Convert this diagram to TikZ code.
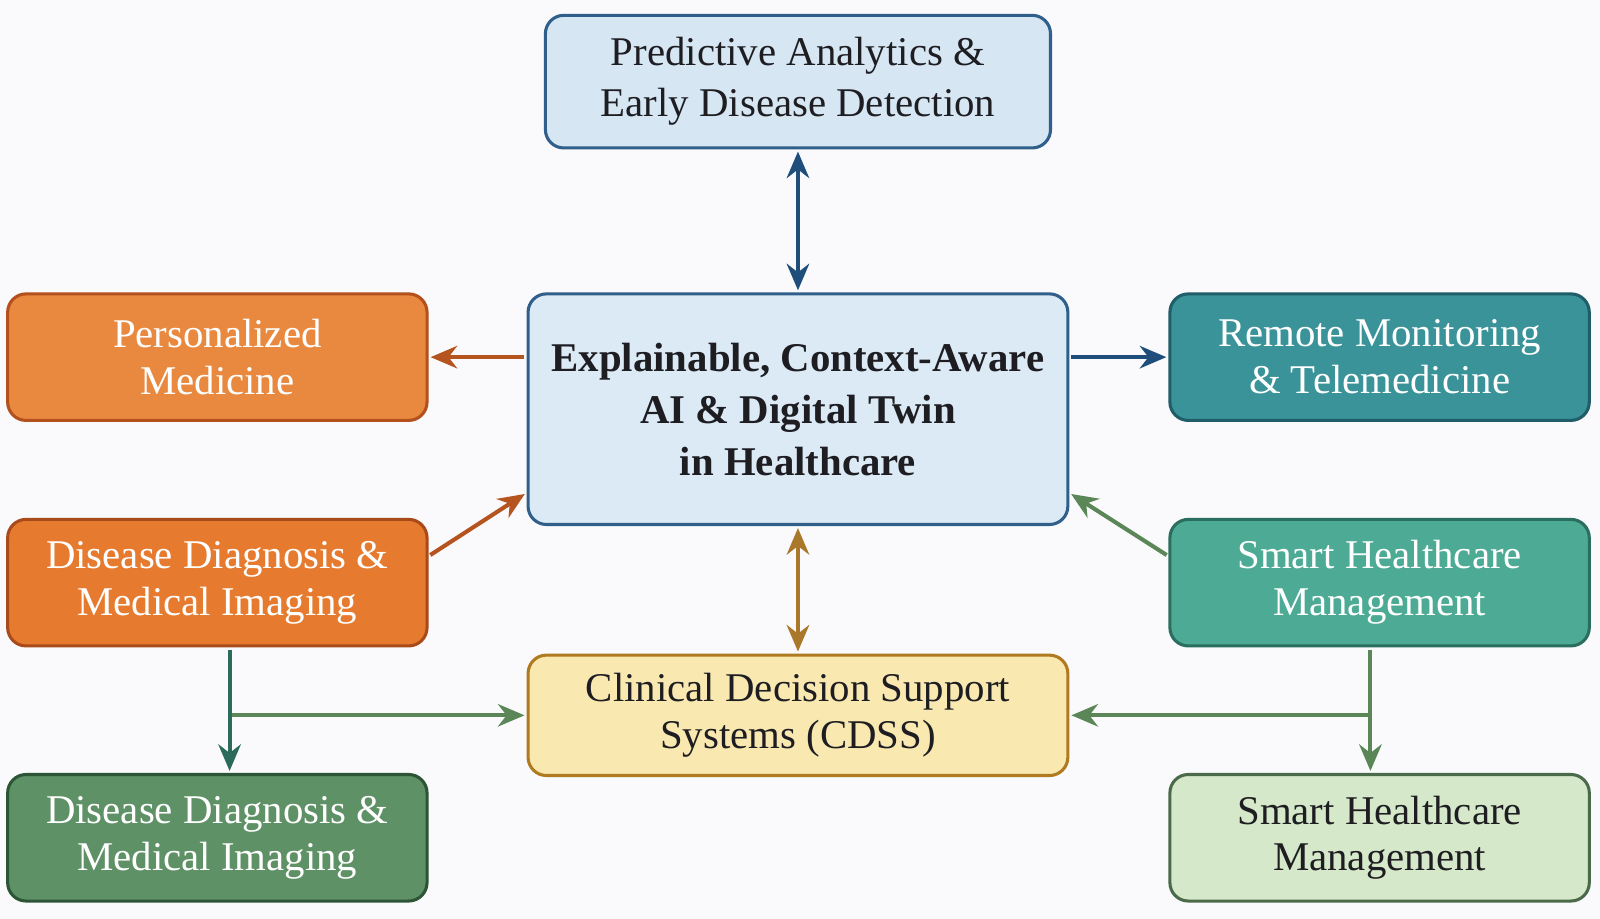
\documentclass[tikz,border=0pt]{standalone}
\usepackage{fontspec}
\setmainfont{Liberation Serif}
\usetikzlibrary{arrows.meta}
\definecolor{bg}{HTML}{FAF9FB}
\definecolor{ink}{HTML}{1E1E22}
\definecolor{predfill}{HTML}{D6E6F3}
\definecolor{predline}{HTML}{2F5F8A}
\definecolor{corefill}{HTML}{DCEAF6}
\definecolor{persfill}{HTML}{E9893F}
\definecolor{persline}{HTML}{B3501C}
\definecolor{diagfill}{HTML}{E67B2F}
\definecolor{diagline}{HTML}{A84A1A}
\definecolor{remfill}{HTML}{3A9399}
\definecolor{remline}{HTML}{1F5D68}
\definecolor{smartfill}{HTML}{4DAA94}
\definecolor{smartline}{HTML}{2A6E60}
\definecolor{cdssfill}{HTML}{F9E8B0}
\definecolor{cdssline}{HTML}{B07A20}
\definecolor{imgfill}{HTML}{5E9166}
\definecolor{imgline}{HTML}{2C5536}
\definecolor{mgmtfill}{HTML}{D5E8C9}
\definecolor{mgmtline}{HTML}{4A6A4A}
\definecolor{blueArr}{HTML}{1F4E7A}
\definecolor{orangeArr}{HTML}{B5541E}
\definecolor{greenArr}{HTML}{5A8658}
\definecolor{tealArr}{HTML}{2B6B5C}
\definecolor{goldArr}{HTML}{A9782A}
\begin{document}
\begin{tikzpicture}[x=0.5pt,y=-0.5pt,
    box/.style={rounded corners=9pt,line width=1.5pt,align=center,inner sep=0pt,
      font=\fontsize{20}{23}\selectfont},
    wide/.style={box,minimum width=205.5pt,minimum height=62pt},
    arr/.style={line width=2pt,-{Stealth[length=13pt,width=11pt]}},
    dbl/.style={line width=2pt,{Stealth[length=13pt,width=11pt]}-{Stealth[length=13pt,width=11pt]}}]
      \fill[bg] (0,0) rectangle (1568,900.6);
      \draw
        (782,80) node[box,draw=predline,fill=predfill,text=ink,minimum width=247.5pt,minimum height=65pt,font=\fontsize{20}{25}\selectfont] (pred) {Predictive Analytics \&\\Early Disease Detection}
        (782,401) node[box,draw=predline,fill=corefill,text=ink,minimum width=264.5pt,minimum height=113pt,font=\bfseries\fontsize{20}{25.5}\selectfont] (core) {Explainable, Context-Aware\\AI \& Digital Twin\\in Healthcare}
        (213,350) node[wide,draw=persline,fill=persfill,text=white] (pers) {Personalized\\Medicine}
        (1352,350) node[wide,draw=remline,fill=remfill,text=white] (rem) {Remote Monitoring\\\& Telemedicine}
        (213,571) node[wide,draw=diagline,fill=diagfill,text=white] (diag) {Disease Diagnosis \&\\Medical Imaging}
        (1352,571) node[wide,draw=smartline,fill=smartfill,text=white] (smart) {Smart Healthcare\\Management}
        (782,701) node[box,draw=cdssline,fill=cdssfill,text=ink,minimum width=264.5pt,minimum height=59pt] (cdss) {Clinical Decision Support\\Systems (CDSS)}
        (213,821) node[wide,draw=imgline,fill=imgfill,text=white] (img) {Disease Diagnosis \&\\Medical Imaging}
        (1352,821) node[wide,draw=mgmtline,fill=mgmtfill,text=ink] (mgmt) {Smart Healthcare\\Management};
      \coordinate (lj) at (225,701);
      \coordinate (rj) at (1343,701);
      \begin{scope}[shorten >=1pt,shorten <=1pt]
        \draw[dbl,blueArr] (pred) to (core);
        \draw[arr,orangeArr] (core.west |- pers) to (pers);
        \draw[arr,blueArr] (core.east |- rem) to (rem);
        \draw[arr,orangeArr] (diag.east |- 0,545) to (core.west |- 0,483);
        \draw[arr,greenArr] (smart.west |- 0,545) to (core.east |- 0,483);
        \draw[dbl,goldArr] (core) to (cdss);
        \draw[arr,tealArr] (lj |- diag.south) to (lj |- img.north);
        \draw[arr,greenArr] (lj) to (cdss);
        \draw[arr,greenArr] (rj |- smart.south) to (rj |- mgmt.north);
        \draw[arr,greenArr] (rj) to (cdss);
      \end{scope}
    \end{tikzpicture}
\end{document}
